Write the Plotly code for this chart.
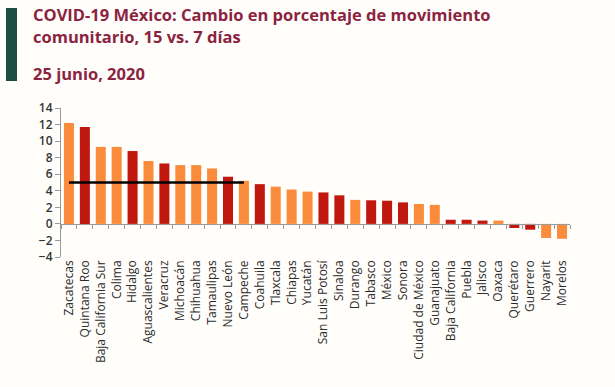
import plotly.graph_objects as go

estados = ["Zacatecas", "Quintana Roo", "Baja California Sur", "Colima", "Hidalgo",
           "Aguascalientes", "Veracruz", "Michoacán", "Chihuahua", "Tamaulipas",
           "Nuevo León", "Campeche", "Coahuila", "Tlaxcala", "Chiapas", "Yucatán",
           "San Luis Potosí", "Sinaloa", "Durango", "Tabasco", "México", "Sonora",
           "Ciudad de México", "Guanajuato", "Baja California", "Puebla", "Jalisco",
           "Oaxaca", "Querétaro", "Guerrero", "Nayarit", "Morelos"]
cambio = [12.2, 11.7, 9.3, 9.3, 8.8, 7.6, 7.3, 7.1, 7.1, 6.7, 5.7, 5.2, 4.8, 4.5,
          4.15, 3.9, 3.8, 3.45, 2.9, 2.85, 2.8, 2.6, 2.4, 2.3, 0.5, 0.5, 0.4, 0.4,
          -0.5, -0.7, -1.7, -1.8]
grupo = ["o", "r", "o", "o", "r", "o", "r", "o", "o", "o", "r", "o", "r", "o", "o", "o",
         "r", "r", "o", "r", "r", "r", "o", "o", "r", "r", "r", "o", "r", "r", "o", "o"]
promedio_x = ["Zacatecas", "Campeche"]
promedio_y = [5, 5]

colores = {"o": "#FB8C3C", "r": "#C0170F"}
titulo1 = "COVID-19 México: Cambio en porcentaje de movimiento"
titulo2 = "comunitario, 15 vs. 7 días"
fecha = "25 junio, 2020"

FONT = "Open Sans"
fig = go.Figure()
fig.add_trace(go.Bar(x=estados, y=cambio, marker_color=[colores[g] for g in grupo],
                     marker_line_width=0, width=0.63, showlegend=False, hoverinfo="x+y"))
fig.add_trace(go.Scatter(x=promedio_x, y=promedio_y, mode="lines", xaxis="x2",
                         line=dict(color="black", width=2.5), showlegend=False))

fig.update_layout(
    width=615, height=387,
    margin=dict(l=61, r=45, t=108, b=130),
    paper_bgcolor="#FFFEFB", plot_bgcolor="rgba(0,0,0,0)",
    font=dict(family=FONT, color="#333333"),
    xaxis=dict(type="category", categoryorder="array", categoryarray=estados,
               range=[-0.5, 31.5], showline=False, ticks="", tickangle=-90,
               tickmode="array", tickvals=estados, ticktext=estados,
               tickfont=dict(size=12, color="#2b2b2b", family=FONT), showgrid=False,
               automargin=False),
    xaxis2=dict(type="category", categoryorder="array", categoryarray=estados,
                matches="x", overlaying="x", anchor="free", position=4 / 18,
                showline=True, linecolor="#9a9a9a", linewidth=1.2,
                ticks="outside", tickson="boundaries", ticklen=4, tickcolor="#9a9a9a",
                showticklabels=False, showgrid=False),
    yaxis=dict(range=[-4, 14], dtick=2, showline=True, linecolor="#9a9a9a", linewidth=1.2,
               ticks="outside", ticklen=5, tickcolor="#9a9a9a", showgrid=False,
               zeroline=False, automargin=False,
               tickfont=dict(size=12, color="#333333", family=FONT + " Semibold")),
)

fig.add_shape(type="rect", xref="paper", yref="paper",
              x0=-55 / 509, x1=-44 / 509, y0=(257 - 81) / 149, y1=(257 - 8) / 149,
              fillcolor="#1E4D45", line_width=0, layer="above")

tcolor = "#8B2340"
for txt, ypx in [(titulo1, 15), (titulo2, 36), (fecha, 73)]:
    fig.add_annotation(text="<b>" + txt + "</b>", xref="paper", yref="paper",
                       x=(31 - 61) / 509, y=(257 - ypx) / 149, xanchor="left", yanchor="middle",
                       showarrow=False, font=dict(size=16.5, color=tcolor, family=FONT))

fig.write_html("out.html", config={"displayModeBar": False},
               post_script="document.body.style.margin='0';document.body.style.overflow='hidden';")
